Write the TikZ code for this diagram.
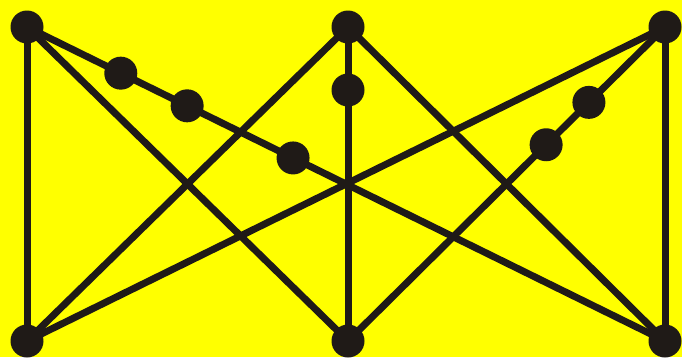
\documentclass[tikz,border=0pt]{standalone}
\usetikzlibrary{calc}
\definecolor{bg}{RGB}{255,255,0}
\definecolor{ink}{RGB}{31,26,23}
\begin{document}
\begin{tikzpicture}[x=1pt,y=-1pt,
  vtx/.style={circle,fill=ink,minimum size=33pt,inner sep=0pt},
  edge/.style={draw=ink,line width=7pt}]
\useasboundingbox (0,0) rectangle (682,357);
\clip (0,0) rectangle (682,357);
\fill[bg] (0,0) rectangle (682,357);
\coordinate (tl) at (27,27);
\coordinate (tm) at (348,27);
\coordinate (tr) at (665,27);
\coordinate (bl) at (27,341);
\coordinate (bm) at (348,341);
\coordinate (br) at (665,341);
\foreach \a in {tl,tm,tr}
  \foreach \b in {bl,bm,br}
    \draw[edge] (\a) -- (\b);
\foreach \p in {tl,tm,tr,bl,bm,br}
  \node[vtx] (n\p) at (\p) {};
\node[vtx] (s1) at ($(tl)!0.147!(br)$) {};
\node[vtx] (s2) at ($(tl)!0.251!(br)$) {};
\node[vtx] (s3) at ($(tl)!0.417!(br)$) {};
\node[vtx] (s4) at (348,90) {};
\node[vtx] (s5) at ($(tr)!0.24!(bm)$) {};
\node[vtx] (s6) at ($(tr)!0.375!(bm)$) {};
\end{tikzpicture}
\end{document}
